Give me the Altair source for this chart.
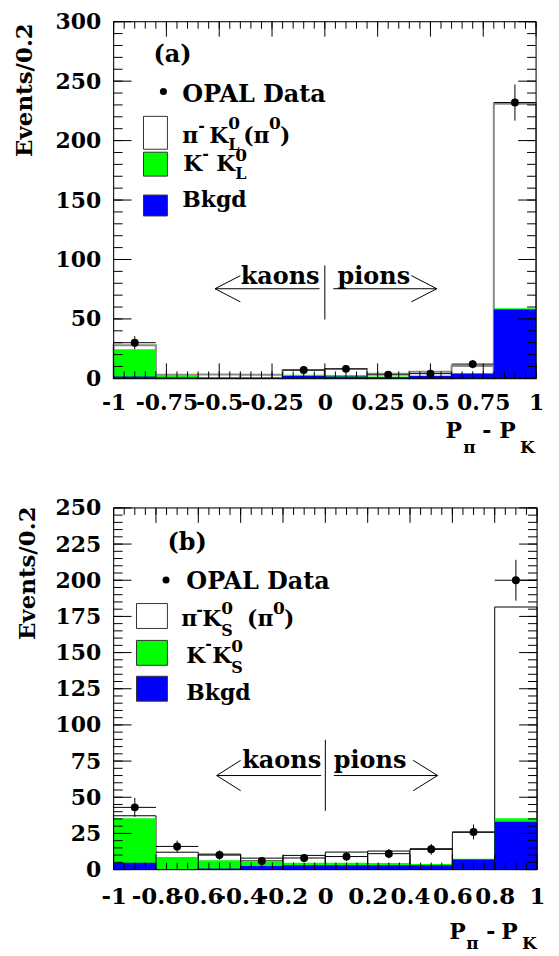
import altair as alt
import pandas as pd

# ---------------- data ----------------
BIN_LO = [-1.0, -0.8, -0.6, -0.4, -0.2, 0.0, 0.2, 0.4, 0.6, 0.8]
BIN_HI = [-0.8, -0.6, -0.4, -0.2, 0.0, 0.2, 0.4, 0.6, 0.8, 1.0]
BIN_MID = [-0.9, -0.7, -0.5, -0.3, -0.1, 0.1, 0.3, 0.5, 0.7, 0.9]

# panel (a): pi- K0_L (pi0)
A_BKGD = [1.5, 0.7, 0.5, 0.5, 2.0, 1.5, 1.0, 2.0, 4.0, 58.0]
A_KK = [23.1, 2.0, 0.7, 0.7, 1.0, 1.3, 0.5, 0.5, 0.5, 1.0]
A_PIK = [3.2, 0.3, 2.0, 1.8, 4.0, 5.2, 2.5, 3.0, 6.0, 172.0]
A_DATA = [30, None, None, None, 7, 8, 3, 4, 12, 232]
A_ERR = [5.5, None, None, None, 2.6, 2.8, 1.7, 2.0, 3.5, 15.2]

# panel (b): pi- K0_S (pi0)
B_BKGD = [4.8, 0.3, 0.8, 2.5, 3.0, 3.0, 3.0, 3.0, 7.0, 33.0]
B_KK = [30.6, 8.4, 5.6, 2.7, 1.8, 1.8, 1.6, 0.9, 0.5, 2.4]
B_PIK = [1.8, 3.3, 4.3, 2.7, 5.0, 7.3, 8.2, 10.5, 18.3, 146.1]
B_DATA = [43, 16, 10, 6, 8, 9, 11, 14, 26, 200]
B_ERR = [6.6, 4.0, 3.2, 2.4, 2.8, 3.0, 3.3, 3.7, 5.1, 14.1]

A_XLABELS = [-1, -0.75, -0.5, -0.25, 0, 0.25, 0.5, 0.75, 1]
B_XLABELS = [-1, -0.8, -0.6, -0.4, -0.2, 0, 0.2, 0.4, 0.6, 0.8, 1]
A_YLABELS = [0, 50, 100, 150, 200, 250, 300]
B_YLABELS = [0, 25, 50, 75, 100, 125, 150, 175, 200, 225, 250]
X_MINOR = [round(-1 + 0.05 * i, 2) for i in range(41)]
A_YMINOR = list(range(0, 301, 10))
B_YMINOR = list(range(0, 251, 5))

FONT = "DejaVu Serif"
ONE = pd.DataFrame({"k": [0]})
BLUE = "#0000ff"
GREEN = "#00ff00"


def txt(s, x, y, size, align="left"):
    return alt.Chart(ONE).mark_text(
        text=s, align=align, baseline="alphabetic", font=FONT,
        fontWeight="bold", fontSize=size, color="black"
    ).encode(x=alt.value(x), y=alt.value(y))


def box(x1, y1, x2, y2, fill):
    return alt.Chart(ONE).mark_rect(fill=fill, stroke="#333333", strokeWidth=1).encode(
        x=alt.value(x1), x2=alt.value(x2), y=alt.value(y1), y2=alt.value(y2))


def panel(p):
    W, H = p["W"], p["H"]
    xs = alt.Scale(domain=[-1, 1], nice=False, zero=False)
    ys = alt.Scale(domain=[0, p["ymax"]], nice=False, zero=False)
    xa = alt.Axis(values=p["xlabels"], labelExpr="'' + datum.value", title=None,
                  ticks=False, tickSize=0, domain=False, grid=False,
                  labelOverlap=False, labelFlush=False, labelPadding=p["xlabpad"],
                  labelFont=FONT, labelFontWeight="bold", labelFontSize=p["xlabsize"],
                  labelColor="black")
    ya = alt.Axis(values=p["ylabels"], title="Events/0.2", ticks=False, tickSize=0,
                  domain=False, grid=False, labelOverlap=False, labelFlush=False,
                  labelPadding=13, labelFont=FONT, labelFontWeight="bold",
                  labelFontSize=22, labelColor="black",
                  titleFont=FONT, titleFontWeight="bold", titleFontSize=23,
                  titleColor="black", titleAngle=270, titleAlign="right",
                  titleBaseline="middle", titleX=p["titleX"], titleY=p["titleY"])

    def X(f):
        return alt.X(f, type="quantitative", scale=xs, axis=xa)

    def Y(f):
        return alt.Y(f, type="quantitative", scale=ys, axis=ya)

    bars = pd.DataFrame({"lo": BIN_LO, "hi": BIN_HI, "bk": p["bkgd"],
                         "kk": p["kk"], "pk": p["pik"]})
    bars["z"] = 0.0
    bars["b1"] = bars["bk"]
    bars["b2"] = bars["bk"] + bars["kk"]
    bars["b3"] = bars["b2"] + bars["pk"]

    pts = pd.DataFrame({"lo": BIN_LO, "hi": BIN_HI, "mid": BIN_MID,
                        "n": p["data"], "e": p["err"]}).dropna()
    pts["dlo"] = pts["n"] - pts["e"]
    pts["dhi"] = pts["n"] + pts["e"]

    layers = []
    base = alt.Chart(bars)
    layers.append(base.mark_rect(fill="white", stroke=p["wstroke"],
                                 strokeWidth=p["wsw"]).encode(
        x=X("lo"), x2="hi", y=Y("z"), y2="b3"))
    layers.append(base.mark_rect(fill=GREEN).encode(
        x=X("lo"), x2="hi", y=Y("z"), y2="b2"))
    layers.append(base.mark_rect(fill=BLUE).encode(
        x=X("lo"), x2="hi", y=Y("z"), y2="b1"))

    # inward ticks on all four sides
    for vals, L in ((p["xlabels"], 15), (X_MINOR, 7)):
        tb = alt.Chart(pd.DataFrame({"v": vals})).mark_rule(color="black", strokeWidth=1)
        layers.append(tb.encode(x=X("v"), y=alt.value(H), y2=alt.value(H - L)))
        layers.append(tb.encode(x=X("v"), y=alt.value(0), y2=alt.value(L)))
    for vals, L in ((p["ylabels"], 18), (p["yminor"], 9)):
        tb = alt.Chart(pd.DataFrame({"v": vals})).mark_rule(color="black", strokeWidth=1)
        layers.append(tb.encode(y=Y("v"), x=alt.value(0), x2=alt.value(L)))
        layers.append(tb.encode(y=Y("v"), x=alt.value(W), x2=alt.value(W - L)))

    # data points with errors
    pb = alt.Chart(pts)
    layers.append(pb.mark_rule(color="black", strokeWidth=1).encode(
        x=X("lo"), x2="hi", y=Y("n")))
    layers.append(pb.mark_rule(color="black", strokeWidth=1).encode(
        x=X("mid"), y=Y("dlo"), y2="dhi"))
    layers.append(pb.mark_circle(size=64, color="black", opacity=1).encode(
        x=X("mid"), y=Y("n")))

    # kaons | pions annotation (data coordinates)
    a = p["ann"]

    def rule(x1, y1, x2, y2):
        return alt.Chart(ONE).mark_rule(color="black", strokeWidth=1).encode(
            x=alt.XDatum(x1, type="quantitative", scale=xs, axis=xa),
            y=alt.YDatum(y1, type="quantitative", scale=ys, axis=ya),
            x2=alt.X2Datum(x2), y2=alt.Y2Datum(y2))

    layers.append(rule(0.0, a["vtop"], 0.0, a["vbot"]))
    layers.append(rule(a["ltip"], a["ay"], a["lend"], a["ay"]))
    layers.append(rule(a["ltip"], a["ay"], a["lwing"], a["ay"] + a["wdy"]))
    layers.append(rule(a["ltip"], a["ay"], a["lwing"], a["ay"] - a["wdy"]))
    layers.append(rule(a["rstart"], a["ay"], a["rtip"], a["ay"]))
    layers.append(rule(a["rtip"], a["ay"], a["rwing"], a["ay"] + a["wdy"]))
    layers.append(rule(a["rtip"], a["ay"], a["rwing"], a["ay"] - a["wdy"]))
    for s, xv, al in (("kaons", a["kx"], "right"), ("pions", a["px"], "left")):
        layers.append(alt.Chart(ONE).mark_text(
            text=s, align=al, baseline="alphabetic", font=FONT, fontWeight="bold",
            fontSize=24, color="black").encode(
            x=alt.XDatum(xv, type="quantitative", scale=xs, axis=xa),
            y=alt.YDatum(a["ty"], type="quantitative", scale=ys, axis=ya)))

    # legend
    for (x1, y1, x2, y2, fill) in p["boxes"]:
        layers.append(box(x1, y1, x2, y2, fill))
    dx, dy = p["dot"]
    layers.append(alt.Chart(ONE).mark_circle(size=50, color="black", opacity=1).encode(
        x=alt.value(dx), y=alt.value(dy)))
    for (s, x, y, size) in p["texts"]:
        layers.append(txt(s, x, y, size))

    # frame
    layers.append(alt.Chart(ONE).mark_rect(fillOpacity=0, stroke="black", strokeWidth=1).encode(
        x=alt.value(0), x2=alt.value(W), y=alt.value(0), y2=alt.value(H)))

    return alt.layer(*layers).properties(width=W, height=H)


WA, HA = 424, 358
WB, HB = 425, 363

PA = dict(
    W=WA, H=HA, ymax=300, xlabels=A_XLABELS, ylabels=A_YLABELS, yminor=A_YMINOR,
    bkgd=A_BKGD, kk=A_KK, pik=A_PIK, data=A_DATA, err=A_ERR,
    wstroke="#8a8a8a", wsw=2, xlabpad=14, xlabsize=22, titleX=-89, titleY=1,
    ann=dict(vtop=95, vbot=49.5, ay=75.4, wdy=11, ltip=-0.52, lend=-0.025,
             lwing=-0.40, rstart=0.04, rtip=0.53, rwing=0.41,
             kx=-0.025, px=0.06, ty=79.6),
    boxes=[(30, 95, 54, 128, "white"), (30, 131, 54, 155, GREEN), (30, 174, 54, 195, BLUE)],
    dot=(50, 70),
    texts=[("(a)", 40, 40, 24), ("OPAL Data", 69, 81, 24),
           ("π", 69, 122, 22), ("-", 85, 110, 16), ("K", 96, 122, 22),
           ("0", 115, 108, 17), ("L", 115, 129, 16), ("(π", 130, 122, 22),
           ("0", 156, 108, 17), (")", 167, 122, 22),
           ("K", 70, 150, 22), ("-", 89, 138, 16), ("K", 103, 150, 22),
           ("0", 122, 140, 17), ("L", 122, 158, 16),
           ("Bkgd", 69, 186, 22),
           ("P", WA - 91, HA + 60, 22), ("π", WA - 73, HA + 75, 17),
           ("-", WA - 54, HA + 60, 22), ("P", WA - 37, HA + 60, 22),
           ("K", WA - 16, HA + 75, 17)],
)

PB = dict(
    W=WB, H=HB, ymax=250, xlabels=B_XLABELS, ylabels=B_YLABELS, yminor=B_YMINOR,
    bkgd=B_BKGD, kk=B_KK, pik=B_PIK, data=B_DATA, err=B_ERR,
    wstroke="black", wsw=1, xlabpad=16, xlabsize=23, titleX=-86, titleY=-2,
    ann=dict(vtop=89.7, vbot=40.6, ay=65, wdy=10.5, ltip=-0.513, lend=-0.02,
             lwing=-0.40, rstart=0.04, rtip=0.53, rwing=0.415,
             kx=-0.02, px=0.04, ty=70.3),
    boxes=[(23, 96, 54, 121, "white"), (23, 133, 54, 158, GREEN), (23, 169, 54, 194, BLUE)],
    dot=(52.6, 72.3),
    texts=[("(b)", 54, 42, 24), ("OPAL Data", 73, 81, 24),
           ("π", 68, 119, 22), ("-", 83, 107, 16), ("K", 89, 119, 22),
           ("0", 108, 106, 17), ("S", 108, 129, 16), ("(π", 134, 119, 22),
           ("0", 160, 106, 17), (")", 171, 119, 22),
           ("K", 73, 156, 22), ("-", 92, 142, 16), ("K", 99, 156, 22),
           ("0", 118, 145, 17), ("S", 118, 166, 16),
           ("Bkgd", 73, 193, 22),
           ("P", WB - 88, HB + 70, 22), ("π", WB - 71, HB + 80, 17),
           ("-", WB - 51, HB + 70, 22), ("P", WB - 36, HB + 70, 22),
           ("K", WB - 15, HB + 80, 17)],
)

chart = alt.vconcat(panel(PA), panel(PB), spacing=39).properties(
    padding={"left": 5, "top": 0, "right": 5, "bottom": 2}
).configure_view(stroke="transparent").configure(background="white")

chart.save("out.html", embed_options={"renderer": "svg", "actions": False})
